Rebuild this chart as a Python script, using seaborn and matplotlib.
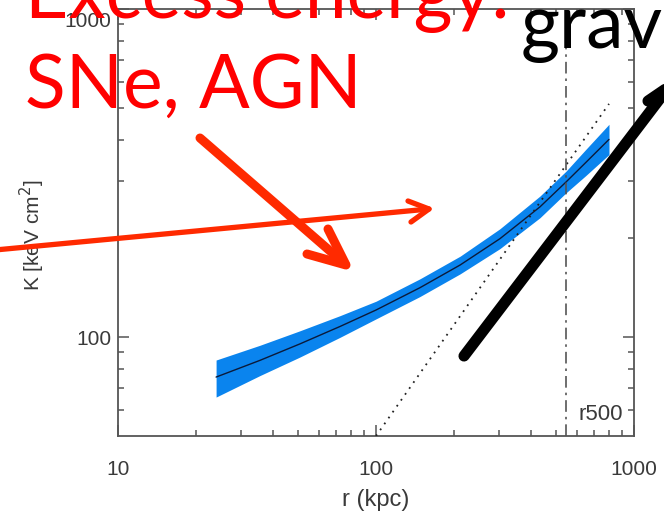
import numpy as np
import pandas as pd
import matplotlib
matplotlib.use("Agg")
import matplotlib.pyplot as plt
from matplotlib.lines import Line2D
from matplotlib.ticker import FixedLocator, NullFormatter, FuncFormatter
from matplotlib.transforms import ScaledTranslation
import seaborn as sns

# Entropy profile K(r): best fit and its scatter band
r_kpc = [24, 35.5, 50.7, 72.5, 100, 148, 212, 302, 432, 545, 650, 800]
k_fit = [75.6, 85.0, 95.4, 107.8, 121.0, 141.5, 166, 199.5, 249.5, 297, 340.5, 400.5]
k_high = [85.2, 94.5, 104.6, 116.3, 128.7, 150.6, 176.6, 213.9, 269.2, 320.5, 373.2, 445.4]
k_low = [65.7, 76.4, 87.0, 99.9, 113.7, 133.0, 156.0, 186.1, 231.2, 275.3, 310.7, 360.2]

# Gravity-only baseline (dotted) and the r500 radius
base_r = [100, 800]
base_k = [50, 514]
r500 = 545

x_major = [10, 100, 1000]
y_major = [100, 1000]
x_minor = [20, 30, 40, 50, 60, 70, 80, 90, 200, 300, 400, 500, 600, 700, 800, 900]
y_minor = [60, 70, 80, 90, 200, 300, 400, 500, 600, 700, 800, 900]

profile = pd.DataFrame({"r": r_kpc, "K": k_fit, "lo": k_low, "hi": k_high})
baseline = pd.DataFrame({"r": base_r, "K": base_k})

W, H = 664, 515
sns.set_theme(style="ticks")
plt.rcParams["font.family"] = ["Liberation Sans", "DejaVu Sans"]

fig = plt.figure(figsize=(W / 100, H / 100), dpi=100)
ax = fig.add_axes([118 / W, 1 - 436 / H, (634 - 118) / W, (436 - 9) / H])

axis_grey = "#555555"
text_grey = "#3a3a3a"
band_blue = "#0a84ee"

ax.fill_between(profile["r"], profile["lo"], profile["hi"], color=band_blue, lw=0, zorder=2)
sns.lineplot(data=profile, x="r", y="K", ax=ax, color="#0b1a3a", lw=1.0, zorder=3)
sns.lineplot(data=baseline, x="r", y="K", ax=ax, color="#222222", lw=1.3,
             linestyle=(0, (1, 3.0)), zorder=3)
ax.axvline(r500, color="#555555", lw=1.2, linestyle=(0, (7, 3, 1.5, 3)), zorder=3)

ax.set_xscale("log")
ax.set_yscale("log")
ax.set_xlim(10, 1000)
ax.set_ylim(50, 1000)

ax.xaxis.set_major_locator(FixedLocator(x_major))
ax.xaxis.set_minor_locator(FixedLocator(x_minor))
ax.yaxis.set_major_locator(FixedLocator(y_major))
ax.yaxis.set_minor_locator(FixedLocator(y_minor))
plain = FuncFormatter(lambda v, p: f"{v:g}")
ax.xaxis.set_major_formatter(plain)
ax.yaxis.set_major_formatter(plain)
ax.xaxis.set_minor_formatter(NullFormatter())
ax.yaxis.set_minor_formatter(NullFormatter())

ax.tick_params(which="both", direction="in", top=True, right=True, color=axis_grey,
               width=1.1, labelcolor=text_grey, labelsize=15)
ax.tick_params(which="major", length=8)
ax.tick_params(which="minor", length=4.5)
ax.tick_params(axis="x", which="major", pad=17)
ax.tick_params(axis="y", which="major", pad=5)
for s in ax.spines.values():
    s.set_color(axis_grey)
    s.set_linewidth(1.3)

ax.set_xlabel("r (kpc)", fontsize=17, color=text_grey)
ax.set_ylabel("K [keV cm$^2$]", fontsize=15, color=text_grey)
ax.xaxis.set_label_coords(0.5, -0.125)
ax.yaxis.set_label_coords(-0.137, 0.47)
ax.text(0.978, 0.05, "r500", transform=ax.transAxes, ha="right", va="center",
        fontsize=16, color=text_grey)

# the top y label sits just inside the frame
fig.canvas.draw()
for tick in ax.yaxis.get_major_ticks():
    if tick.get_loc() == 1000:
        tick.label1.set_transform(tick.label1.get_transform()
                                  + ScaledTranslation(0, -0.10, fig.dpi_scale_trans))


# slide annotations, placed in figure pixels (origin top-left)
def px(x, y):
    return x / W, 1 - y / H


def stroke(points, color, lw):
    xs, ys = zip(*[px(x, y) for x, y in points])
    fig.add_artist(Line2D(xs, ys, transform=fig.transFigure, color=color, lw=lw,
                          solid_capstyle="round", solid_joinstyle="round", zorder=10))


red = "#ff0000"
arrow_red = "#ff2a00"
slide_font = ["Lato", "DejaVu Sans"]
slide_size = 54

fig.text(*px(25, 18), "Excess energy:", color=red, fontsize=slide_size, family=slide_font,
         ha="left", va="baseline", zorder=11)
fig.text(*px(25, 108), "SNe, AGN", color=red, fontsize=slide_size, family=slide_font,
         ha="left", va="baseline", zorder=11)
fig.text(*px(521, 48), "gravity", color="black", fontsize=slide_size, family=slide_font,
         ha="left", va="baseline", zorder=11)

# thin red arrow
stroke([(-5, 250), (429, 209)], arrow_red, 3.8)
stroke([(408, 201), (429, 209), (411, 222)], arrow_red, 3.8)
# thick red arrow
stroke([(200, 138), (345, 264)], arrow_red, 6.5)
stroke([(328, 229), (346, 265), (307, 254)], arrow_red, 6.5)
# black arrow
stroke([(464, 356), (668, 88)], "black", 8.0)
stroke([(648, 101), (670, 86)], "black", 8.0)

fig.savefig("out.png", dpi=100)
